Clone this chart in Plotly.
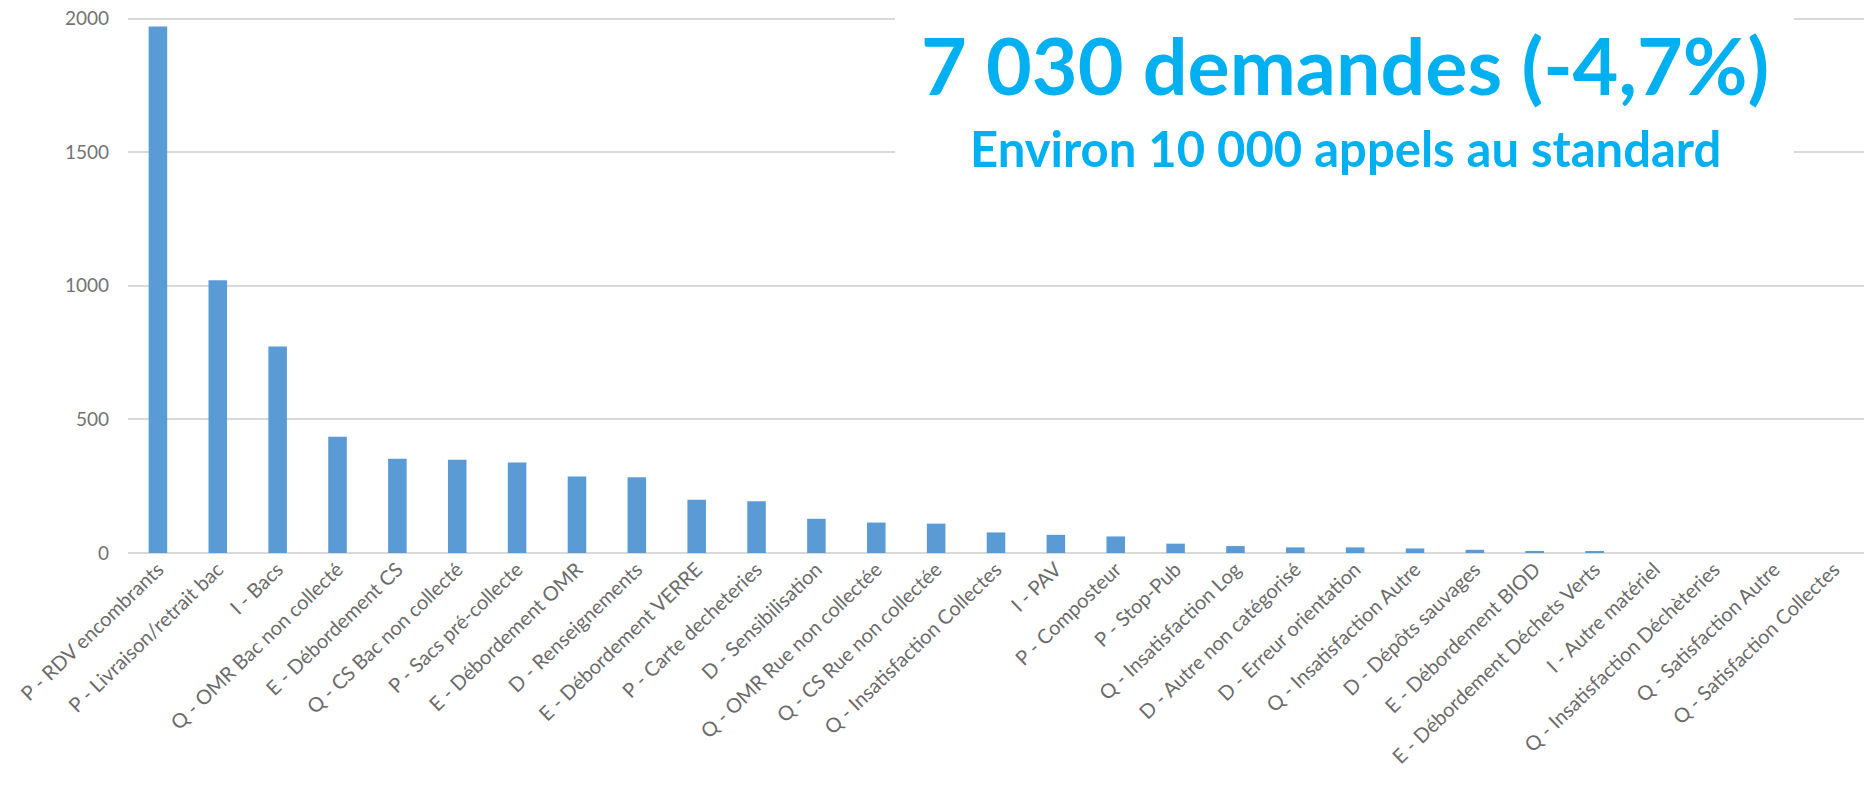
import plotly.graph_objects as go

categories = [
    "P - RDV encombrants", "P - Livraison/retrait bac", "I - Bacs",
    "Q - OMR Bac non collecté", "E - Débordement CS", "Q - CS Bac non collecté",
    "P - Sacs pré-collecte", "E - Débordement OMR", "D - Renseignements",
    "E - Débordement VERRE", "P - Carte decheteries", "D - Sensibilisation",
    "Q - OMR Rue non collectée", "Q - CS Rue non collectée", "Q - Insatisfaction Collectes",
    "I - PAV", "P - Composteur", "P - Stop-Pub", "Q - Insatisfaction Log",
    "D - Autre non catégorisé", "D - Erreur orientation", "Q - Insatisfaction Autre",
    "D - Dépôts sauvages", "E - Débordement BIOD", "E - Débordement Déchets Verts",
    "I - Autre matériel", "Q - Insatisfaction Déchèteries", "Q - Satisfaction Autre",
    "Q - Satisfaction Collectes",
]
values = [1971, 1021, 773, 435, 353, 349, 339, 286, 284, 199, 194, 128, 114, 110, 77,
          68, 62, 35, 26, 21, 21, 17, 12, 7, 7, 0, 0, 0, 0]
y_ticks = [0, 500, 1000, 1500, 2000]
title_main = "7 030 demandes (-4,7%)"
title_sub = "Environ 10 000 appels au standard"

W, H = 1864, 801
L, R, T, B = 128, 0, 16, 248

fig = go.Figure(go.Bar(x=categories, y=values, marker_color="#5B9BD5",
                       marker_line_width=0))

fig.update_layout(
    width=W, height=H,
    margin=dict(l=L, r=R, t=T, b=B, pad=0, autoexpand=False),
    paper_bgcolor="white", plot_bgcolor="white",
    bargap=0.69,
    showlegend=False,
    font=dict(family="Lato", color="#6b6b6b"),
    xaxis=dict(tickangle=-44, tickfont=dict(size=20, color="#6b6b6b"),
               showgrid=False, showline=False, ticks="", automargin=False),
    yaxis=dict(range=[0, 2010], tickvals=y_ticks, ticktext=[str(v) for v in y_ticks],
               tickfont=dict(size=19, color="#737373"),
               showgrid=True, gridcolor="#d9d9d9", gridwidth=2,
               zeroline=True, zerolinecolor="#d9d9d9", zerolinewidth=2,
               ticklabelstandoff=18, showline=False, automargin=False),
)

# white panel behind the headline text
pw = W - L - R
ph = H - T - B
def px_x(x):
    return (x - L) / pw
def px_y(y):
    return (H - B - y) / ph

fig.add_shape(type="rect", xref="paper", yref="paper",
              x0=px_x(895), x1=px_x(1794), y0=px_y(200), y1=px_y(-5),
              fillcolor="white", line_width=0, layer="above")

fig.add_annotation(text="<b>" + title_main + "</b>", xref="paper", yref="paper",
                   x=px_x(1345), y=px_y(64), xanchor="center", yanchor="middle",
                   showarrow=False, font=dict(family="Lato", size=79, color="#00B0F0"))
fig.add_annotation(text="<b>" + title_sub + "</b>", xref="paper", yref="paper",
                   x=px_x(1345), y=px_y(148), xanchor="center", yanchor="middle",
                   showarrow=False, font=dict(family="Lato", size=49, color="#00B0F0"))

fig.write_html("out.html", config={"displayModeBar": False},
               post_script="document.body.style.margin='0';document.body.style.overflow='hidden';")
